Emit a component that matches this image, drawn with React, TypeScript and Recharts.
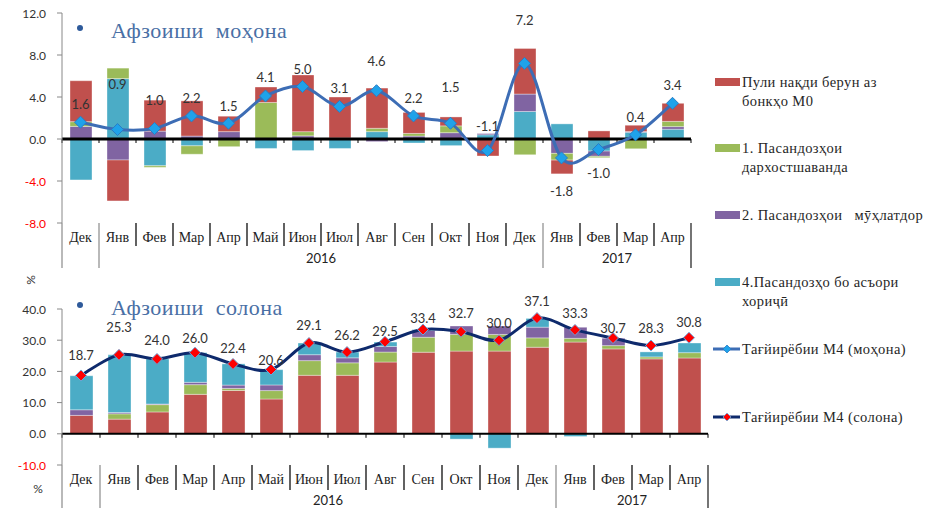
import React from 'react';
import { ComposedChart, Bar, Line, XAxis, YAxis, ReferenceLine, LabelList } from 'recharts';

// ---------- categories ----------
const months = ['Дек', 'Янв', 'Фев', 'Мар', 'Апр', 'Май', 'Июн', 'Июл', 'Авг', 'Сен', 'Окт', 'Ноя', 'Дек', 'Янв', 'Фев', 'Мар', 'Апр'];
const yearGroups = [
  { label: '2016', from: 1, to: 12 },
  { label: '2017', from: 13, to: 16 },
];

// ---------- monthly change (Афзоиши моҳона) ----------
const monthlyM0 = [3.9, -3.9, 2.95, 3.35, 1.47, 1.47, 5.4, 3.9, 3.83, 2.0, 0.85, -1.62, 4.35, -1.31, 0.77, 0.6, 1.72];
const monthlyDemand = [0.45, 1.0, -0.15, -0.8, -0.73, 3.48, 0.4, 0.1, 0.32, 0.25, 0.65, 0, -1.5, -0.64, -0.13, -0.93, 0.5];
const monthlyTerm = [1.2, -2.0, 0.75, 0.28, 0.7, 0, 0.3, 0, -0.25, 0.28, 0.6, 0.12, 1.66, -1.37, -0.5, 0.07, 0.25];
const monthlyForeign = [-3.9, 5.75, -2.55, -0.65, 0, -0.9, -1.1, -0.9, 0.7, -0.38, -0.63, 0.4, 2.62, 1.44, -1.15, 0.64, 0.93];
const monthlyM4 = [1.6, 0.9, 1.0, 2.2, 1.5, 4.1, 5.0, 3.1, 4.6, 2.2, 1.5, -1.1, 7.2, -1.8, -1.0, 0.4, 3.4];

// ---------- annual change (Афзоиши солона) ----------
const annualM0 = [5.9, 4.7, 7.0, 12.65, 13.9, 11.15, 18.75, 18.75, 23.0, 26.15, 26.5, 26.5, 27.75, 29.4, 27.2, 24.0, 24.3];
const annualDemand = [0, 1.7, 2.35, 3.1, 0.65, 2.7, 4.7, 4.0, 3.2, 4.8, 5.35, 5.35, 3.0, 1.2, 1.07, 0.65, 1.7];
const annualTerm = [1.8, 0.4, 0.2, 0.75, 1.07, 1.8, 1.9, 1.6, 1.8, 2.15, 2.7, 2.7, 3.43, 3.55, 2.36, 0, 0];
const annualForeign = [10.9, 18.5, 14.45, 9.5, 6.8, 4.9, 3.75, 1.85, 1.4, 0.3, -1.7, -4.6, 2.8, -0.86, 0, 1.6, 3.1];
const annualM4 = [18.7, 25.3, 24.0, 26.0, 22.4, 20.6, 29.1, 26.2, 29.5, 33.4, 32.7, 30.0, 37.1, 33.3, 30.7, 28.3, 30.8];

// ---------- tick values ----------
const monthlyTicks = [-8, -4, 0, 4, 8, 12];
const annualTicks = [-10, 0, 10, 20, 30, 40];

// ---------- legend texts ----------
const legendBars = [
  { key: 'm0', lines: ['Пули нақди берун аз', 'бонкҳо М0'] },
  { key: 'demand', lines: ['1. Пасандозҳои', 'дархостшаванда'] },
  { key: 'term', lines: ['2. Пасандозҳои   мӯҳлатдор'] },
  { key: 'foreign', lines: ['4.Пасандозҳо бо асъори', 'хориҷӣ'] },
];
const legendLines = ['Тағйирёбии М4 (моҳона)', 'Тағйирёбии М4 (солона)'];
const titles = ['Афзоиши  моҳона', 'Афзоиши  солона'];

// label offsets above (+) / below (-) the point
const monthlyLabelDy = [18, 46, 29, 18, 17, 19, 18, 18, 30, 18, 36, 25, 43, -33, -23, 18, 18];
const annualLabelDy = [20, 28, 19, 15, 16, 10, 18, 17, 11, 12, 19, 17, 17, 17, 10, 18, 16];

const COLORS: Record<string, string> = {
  m0: '#C0504D',
  demand: '#9BBB59',
  term: '#8064A2',
  foreign: '#4BACC6',
};

const monthlyData = months.map((m, i) => ({
  key: String(i),
  m0: monthlyM0[i],
  demand: monthlyDemand[i],
  term: monthlyTerm[i],
  foreign: monthlyForeign[i],
  m4: monthlyM4[i],
}));
const annualData = months.map((m, i) => ({
  key: String(i),
  m0: annualM0[i],
  demand: annualDemand[i],
  term: annualTerm[i],
  foreign: annualForeign[i],
  m4: annualM4[i],
}));

// Excel-like smoothed line (Catmull-Rom as cubic Bezier)
const excelSmooth: any = (context: any) => {
  let pts: number[][] = [];
  return {
    areaStart() {},
    areaEnd() {},
    lineStart() {
      pts = [];
    },
    point(x: number, y: number) {
      pts.push([+x, +y]);
    },
    lineEnd() {
      const n = pts.length;
      if (!n) return;
      context.moveTo(pts[0][0], pts[0][1]);
      for (let i = 0; i < n - 1; i++) {
        const p0 = pts[Math.max(0, i - 1)];
        const p1 = pts[i];
        const p2 = pts[i + 1];
        const p3 = pts[Math.min(n - 1, i + 2)];
        context.bezierCurveTo(
          p1[0] + (p2[0] - p0[0]) / 6,
          p1[1] + (p2[1] - p0[1]) / 6,
          p2[0] - (p3[0] - p1[0]) / 6,
          p2[1] - (p3[1] - p1[1]) / 6,
          p2[0],
          p2[1]
        );
      }
    },
  };
};

const SERIF = '"Liberation Serif", "DejaVu Serif", serif';
const SANS = 'Lato, "Liberation Sans", sans-serif';

function makeMonthTick(band: number, shortLen: number, longLen: number) {
  const longLeft = new Set<number>([0, ...yearGroups.map((g) => g.from)]);
  return (props: any) => {
    const { x, y } = props;
    const i = Number(props.payload?.value);
    const left = x - band / 2;
    const els: any[] = [];
    els.push(
      <line key="sep" x1={left} x2={left} y1={y} y2={y + (longLeft.has(i) ? longLen : shortLen)} stroke={longLeft.has(i) ? '#8a8a8a' : '#3a3a3a'} strokeWidth={longLeft.has(i) ? 1.2 : 1.6} />
    );
    if (i === months.length - 1) {
      els.push(<line key="sepR" x1={x + band / 2} x2={x + band / 2} y1={y} y2={y + longLen} stroke="#3a3a3a" strokeWidth={1.4} />);
    }
    els.push(
      <text key="t" x={x} y={y + 14} textAnchor="middle" dominantBaseline="central" fontFamily={SERIF} fontSize={14} fill="#222">
        {months[i]}
      </text>
    );
    yearGroups.forEach((g) => {
      const c = (g.from + g.to) / 2;
      if (Math.floor(c) === i) {
        els.push(
          <text key={'y' + g.label} x={x + (c - i) * band} y={y + 35} textAnchor="middle" dominantBaseline="central" fontFamily={SANS} fontSize={13} fill="#222">
            {g.label}
          </text>
        );
      }
    });
    return <g>{els}</g>;
  };
}

const YTick = (p: any) => {
  const v = Number(p.payload?.value);
  return (
    <text x={p.x} y={p.y} textAnchor="end" dominantBaseline="central" fontFamily={SANS} fontSize={12} fill={v < 0 ? '#FF0000' : '#333'}>
      {v.toFixed(1)}
    </text>
  );
};

function makeZeroAxis(count: number, width: number, tick: number) {
  return (p: any) => {
    const x1 = Number(p.x1);
    const x2 = Number(p.x2);
    const y = Number(p.y1);
    const step = (x2 - x1) / count;
    return (
      <g>
        <line x1={x1} x2={x2} y1={y} y2={y} stroke="#000" strokeWidth={width} />
        {Array.from({ length: count + 1 }, (_, k) => (
          <line key={k} x1={x1 + k * step} x2={x1 + k * step} y1={y} y2={y + tick} stroke="#000" strokeWidth={1} />
        ))}
      </g>
    );
  };
}

function makeDiamond(fill: string, stroke: string, r: number) {
  return (p: any) => {
    const { cx, cy } = p;
    if (cx == null || cy == null) return <g key={'d' + p.index} />;
    return (
      <path
        key={'d' + p.index}
        d={`M${cx},${cy - r}L${cx + r},${cy}L${cx},${cy + r}L${cx - r},${cy}Z`}
        fill={fill}
        stroke={stroke}
        strokeWidth={1}
      />
    );
  };
}

function makeLineLabel(dys: number[]) {
  return (props: any) => {
    const vb = props.viewBox || {};
    const x = vb.x ?? props.x;
    const y = vb.y ?? props.y;
    const i = props.index;
    const v = Number(props.value);
    return (
      <text key={'l' + i} x={x} y={y - dys[i]} textAnchor="middle" dominantBaseline="central" fontFamily={SANS} fontSize={13} fill="#333">
        {v.toFixed(1)}
      </text>
    );
  };
}

const barStroke = { stroke: '#ffffff', strokeOpacity: 0.35, strokeWidth: 1 };

function TopChart() {
  const band = (700 - 9 - 62) / months.length;
  return (
    <ComposedChart
      width={700}
      height={270}
      data={monthlyData}
      stackOffset="sign"
      margin={{ top: 13, right: 9, bottom: 2, left: 0 }}
    >
      <XAxis
        dataKey="key"
        type="category"
        axisLine={false}
        tickLine={false}
        tickSize={0}
        tickMargin={0}
        height={45}
        interval={0}
        tick={makeMonthTick(band, 23, 45)}
      />
      <YAxis
        width={62}
        domain={[-8, 12]}
        ticks={monthlyTicks}
        interval={0}
        axisLine={{ stroke: '#888' }}
        tickLine={{ stroke: '#888' }}
        tickSize={5}
        tickMargin={11}
        tick={<YTick />}
      />
      <Bar dataKey="foreign" stackId="a" fill={COLORS.foreign} barSize={22} isAnimationActive={false} {...barStroke} />
      <Bar dataKey="term" stackId="a" fill={COLORS.term} barSize={22} isAnimationActive={false} {...barStroke} />
      <Bar dataKey="demand" stackId="a" fill={COLORS.demand} barSize={22} isAnimationActive={false} {...barStroke} />
      <Bar dataKey="m0" stackId="a" fill={COLORS.m0} barSize={22} isAnimationActive={false} {...barStroke} />
      <ReferenceLine y={0} shape={makeZeroAxis(months.length, 3, 4)} ifOverflow="extendDomain" />
      <Line
        dataKey="m4"
        type={excelSmooth}
        stroke="#3D6DB5"
        strokeWidth={3}
        dot={makeDiamond('#1FA2EA', '#2A7CC4', 6)}
        activeDot={false}
        isAnimationActive={false}
      >
        <LabelList dataKey="m4" content={makeLineLabel(monthlyLabelDy)} />
      </Line>
    </ComposedChart>
  );
}

function BottomChart() {
  const band = (720 - 12 - 62) / months.length;
  return (
    <ComposedChart
      width={720}
      height={238}
      data={annualData}
      stackOffset="sign"
      margin={{ top: 39, right: 12, bottom: 0, left: 0 }}
    >
      <XAxis
        dataKey="key"
        type="category"
        axisLine={false}
        tickLine={false}
        tickSize={0}
        tickMargin={0}
        height={43}
        interval={0}
        tick={makeMonthTick(band, 25, 45)}
      />
      <YAxis
        width={62}
        domain={[-10, 40]}
        ticks={annualTicks}
        interval={0}
        axisLine={{ stroke: '#888' }}
        tickLine={{ stroke: '#888' }}
        tickSize={5}
        tickMargin={11}
        tick={<YTick />}
      />
      <Bar dataKey="m0" stackId="b" fill={COLORS.m0} barSize={23} isAnimationActive={false} {...barStroke} />
      <Bar dataKey="demand" stackId="b" fill={COLORS.demand} barSize={23} isAnimationActive={false} {...barStroke} />
      <Bar dataKey="term" stackId="b" fill={COLORS.term} barSize={23} isAnimationActive={false} {...barStroke} />
      <Bar dataKey="foreign" stackId="b" fill={COLORS.foreign} barSize={23} isAnimationActive={false} {...barStroke} />
      <ReferenceLine y={0} shape={makeZeroAxis(months.length, 2, 4)} />
      <Line
        dataKey="m4"
        type={excelSmooth}
        stroke="#0E2A6C"
        strokeWidth={3}
        dot={makeDiamond('#FF0000', '#6FA8DC', 5.5)}
        activeDot={false}
        isAnimationActive={false}
      >
        <LabelList dataKey="m4" content={makeLineLabel(annualLabelDy)} />
      </Line>
    </ComposedChart>
  );
}

function Overlay() {
  const barLegendY = [82, 148, 215, 282];
  const lineLegendY = [349, 417];
  const lineLegendStyle = [
    { stroke: '#3D6DB5', fill: '#1FA2EA', dstroke: '#2A7CC4' },
    { stroke: '#0E2A6C', fill: '#FF0000', dstroke: '#6FA8DC' },
  ];
  const titleY = [30, 307];
  return (
    <svg width={937} height={508} style={{ position: 'absolute', left: 0, top: 0, pointerEvents: 'none' }}>
      {titles.map((t, i) => (
        <g key={t}>
          <circle cx={80} cy={titleY[i] - 2} r={3} fill="#2E5A9A" />
          <text x={111} y={titleY[i]} dominantBaseline="central" fontFamily={SERIF} fontSize={22} letterSpacing={0.5} fill="#4A6FA5" style={{ whiteSpace: 'pre' }}>
            {t}
          </text>
        </g>
      ))}
      <text x={30} y={280} transform="rotate(-90 30 280)" textAnchor="middle" dominantBaseline="central" fontFamily={SANS} fontSize={12} fill="#333">
        %
      </text>
      <text x={38} y={488} textAnchor="middle" dominantBaseline="central" fontFamily={SANS} fontSize={12} fill="#333">
        %
      </text>
      {legendBars.map((b, i) => (
        <g key={b.key}>
          <rect x={715} y={barLegendY[i] - 4} width={25} height={8} fill={COLORS[b.key]} />
          {b.lines.map((ln, k) => (
            <text key={k} x={742} y={barLegendY[i] + k * 19} dominantBaseline="central" fontFamily={SERIF} fontSize={14.5} letterSpacing={0.4} fill="#262626" style={{ whiteSpace: 'pre' }}>
              {ln}
            </text>
          ))}
        </g>
      ))}
      {legendLines.map((t, i) => {
        const y = lineLegendY[i];
        const s = lineLegendStyle[i];
        return (
          <g key={t}>
            <line x1={713} x2={740} y1={y} y2={y} stroke={s.stroke} strokeWidth={3} />
            <path d={`M727,${y - 4}L731,${y}L727,${y + 4}L723,${y}Z`} fill={s.fill} stroke={s.dstroke} strokeWidth={0.8} />
            <text x={742} y={y} dominantBaseline="central" fontFamily={SERIF} fontSize={14.5} letterSpacing={0.4} fill="#262626">
              {t}
            </text>
          </g>
        );
      })}
    </svg>
  );
}

export default function App() {
  return (
    <div style={{ position: 'absolute', left: 0, top: 0, width: 937, height: 508, background: '#fff', overflow: 'hidden' }}>
      <div style={{ position: 'absolute', left: 0, top: 0 }}>
        <TopChart />
      </div>
      <div style={{ position: 'absolute', left: 0, top: 270 }}>
        <BottomChart />
      </div>
      <Overlay />
    </div>
  );
}
